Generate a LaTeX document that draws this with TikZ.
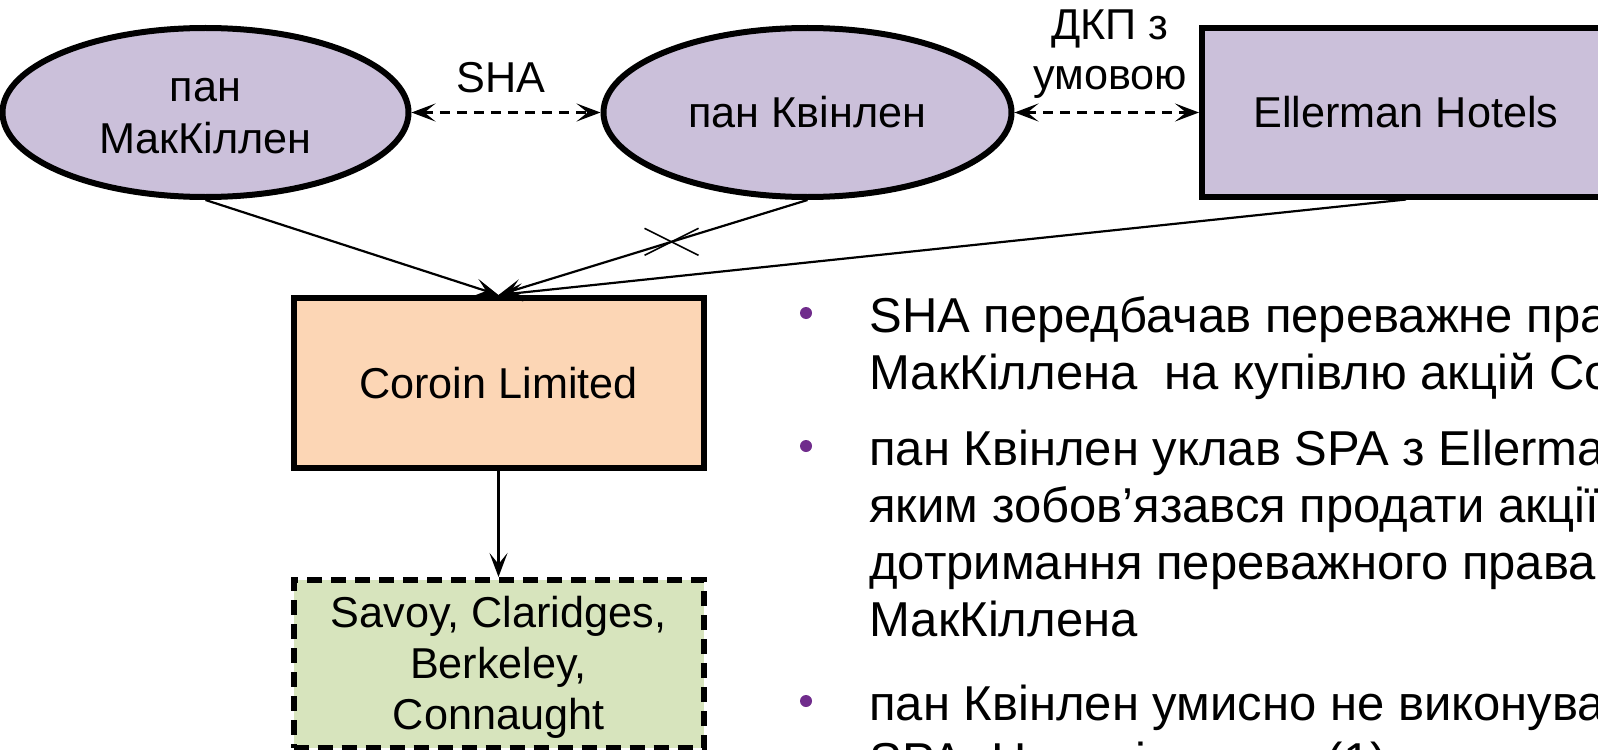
\documentclass[tikz,border=0pt]{standalone}
\usepackage{fontspec}
\setmainfont{Liberation Sans}
\usetikzlibrary{shapes.geometric,arrows.meta,calc}

\definecolor{lavender}{RGB}{203,192,218}
\definecolor{peach}{RGB}{252,214,181}
\definecolor{sage}{RGB}{215,228,189}
\definecolor{plum}{RGB}{112,44,140}

\tikzset{
	person/.style={ellipse, draw, line width=3pt, fill=lavender,
		minimum width=203pt, minimum height=84.5pt, align=center},
	firm/.style={rectangle, draw, line width=3pt,
		minimum width=204pt, minimum height=84pt, align=center},
	link/.style={->, line width=1.1pt},
	deal/.style={<->, line width=1.4pt, dash pattern=on 5pt off 3.5pt},
	bullettext/.style={anchor=base west, inner sep=0pt,
		font=\fontsize{24.5}{28.5}\selectfont},
}

\begin{document}
\begin{tikzpicture}[x=0.5pt, y=-0.5pt,
	>={Stealth[length=12pt,width=9pt,inset=5.5pt]},
	font=\fontsize{21.6}{26}\selectfont]

	\useasboundingbox (0,0) rectangle (1598,749);
	\clip (0,0) rectangle (1598,749);

	% parties
	\node[person, text height=41.5pt] (mck) at (205.5,112.5) {пан\\МакКіллен};
	\node[person, minimum width=204pt] (qui) at (807.5,112.5) {пан Квінлен};
	\node[firm, fill=lavender] (ell) at (1406,112.5) {Ellerman Hotels};

	% company and its hotels
	\node[firm, fill=peach, minimum width=205pt, minimum height=85pt]
	(cor) at (498.5,383) {Coroin Limited};
	\node[firm, fill=sage, minimum width=205pt, dash pattern=on 7.5pt off 4.5pt,
		text height=70pt, font=\fontsize{21.6}{25.5}\selectfont]
	(htl) at (498.5,664) {Savoy, Claridges,\\Berkeley,\\Connaught};

	% agreements
	\draw[deal] (mck.east) -- (qui.west);
	\node[anchor=base] (shalbl) at (501,92) {SHA};
	\draw[deal] (qui.east) -- (ell.west);
	\node[anchor=south, align=center, inner sep=0pt,
		font=\fontsize{21.6}{25}\selectfont] (dkplbl) at (1110,99) {ДКП з\\умовою};

	% shares
	\draw[link] (mck.south) -- (cor.north);
	\draw[link] (qui.south) -- (cor.north) coordinate[pos=0.44] (cut);
	\draw[link] (ell.south) -- (cor.north);
	\draw[link] (cor.south) -- (htl.north);

	% crossed out
	\draw[line width=0.8pt] ($(cut)+(-27,-13.5)$) -- ($(cut)+(27,13.5)$);
	\draw[line width=0.8pt] ($(cut)+(-27,13.5)$) -- ($(cut)+(27,-13.5)$);

	% bullet points
	\fill[plum] (806,313) circle (3pt);
	\node[bullettext] (sha1) at (869,332) {SHA передбачав переважне право};
	\node[bullettext] (sha2) at (869,389) {МакКіллена~ на купівлю акцій Coroin};

	\fill[plum] (806,446) circle (3pt);
	\node[bullettext] (spa1) at (869,465) {пан Квінлен уклав SPA з Ellerman};
	\node[bullettext] (spa2) at (869,522) {яким зобов’язався продати акції};
	\node[bullettext] (spa3) at (869,579) {дотримання переважного права};
	\node[bullettext] (spa4) at (869,636) {МакКіллена};

	\fill[plum] (806,701) circle (3pt);
	\node[bullettext] (brk1) at (869,720) {пан Квінлен умисно не виконував};
	\node[bullettext] (brk2) at (869,777) {SPA. Натомість пан (1)};

\end{tikzpicture}
\end{document}
